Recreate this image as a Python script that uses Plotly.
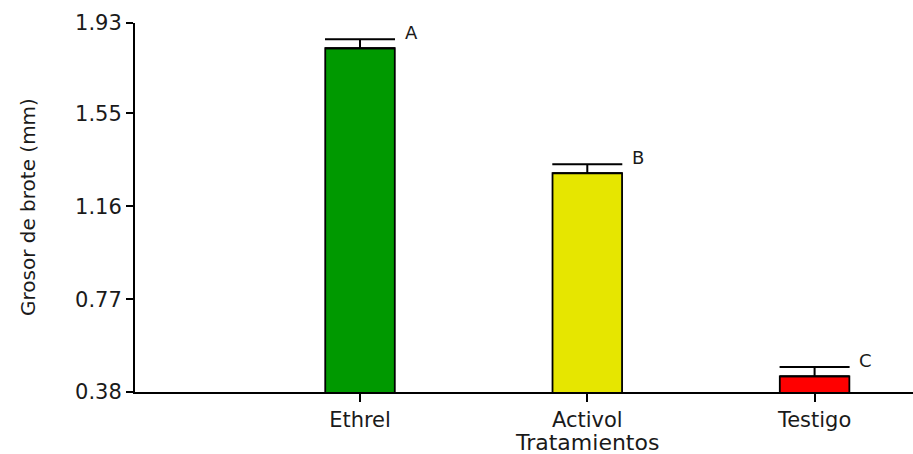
import plotly.graph_objects as go

categories = ["Ethrel", "Activol", "Testigo"]
values = [1.824, 1.299, 0.446]
errors = [0.038, 0.038, 0.039]
letters = ["A", "B", "C"]
colors = ["#009900", "#e6e600", "#ff0000"]
ytick_vals = [0.38, 0.77, 1.16, 1.55, 1.93]
ytick_text = ["0.38", "0.77", "1.16", "1.55", "1.93"]

FONT = "DejaVu Sans, Liberation Sans, Arial, sans-serif"
TXT = "#1a1a1a"

fig = go.Figure()
fig.add_trace(go.Bar(
    x=list(range(len(categories))),
    y=values,
    width=0.306,
    marker=dict(color=colors, line=dict(color="black", width=1.8)),
    error_y=dict(type="data", array=errors, symmetric=False, arrayminus=[0]*3,
                 visible=True, color="black", thickness=2, width=35),
    showlegend=False,
))

annotations = []
for i, (v, e, l) in enumerate(zip(values, errors, letters)):
    annotations.append(dict(x=i, y=v + e, xref="x", yref="y", text=l,
                            showarrow=False, xshift=51, yshift=7,
                            font=dict(family=FONT, size=18, color=TXT)))
annotations.append(dict(x=(27.5 - 135) / 778, y=0.5, xref="paper", yref="paper",
                        text="Grosor de brote (mm)", textangle=-90, showarrow=False,
                        xanchor="center", yanchor="middle",
                        font=dict(family=FONT, size=20, color=TXT)))
annotations.append(dict(x=1, y=(392 - 428) / 369, xref="x", yref="paper",
                        text="Tratamientos", showarrow=False,
                        xanchor="center", yanchor="top",
                        font=dict(family=FONT, size=22, color=TXT)))

fig.update_layout(
    width=913, height=454,
    margin=dict(l=135, r=0, t=23, b=62),
    plot_bgcolor="white", paper_bgcolor="white",
    annotations=annotations,
    xaxis=dict(range=[-0.99, 2.433], tickvals=list(range(len(categories))),
               ticktext=categories, showgrid=False, zeroline=False,
               showline=True, linecolor="black", linewidth=2,
               ticks="outside", ticklen=8, tickwidth=2, tickcolor="black",
               tickfont=dict(family=FONT, size=21, color=TXT)),
    yaxis=dict(range=[0.38, 1.93], tickvals=ytick_vals, ticktext=ytick_text,
               showgrid=False, zeroline=False,
               showline=True, linecolor="black", linewidth=2,
               ticks="outside", ticklen=7, tickwidth=2, tickcolor="black",
               tickfont=dict(family=FONT, size=21, color=TXT)),
)

fig.write_html("out.html")
